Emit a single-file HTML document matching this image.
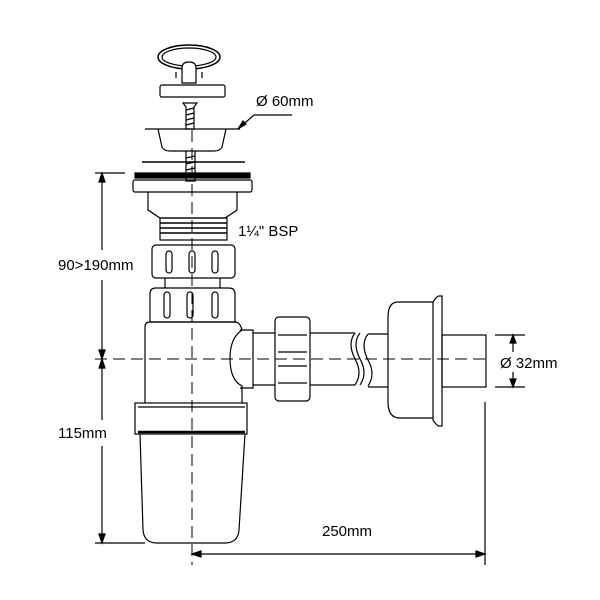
<!DOCTYPE html>
<html><head><style>body{margin:0;background:#fff}svg{display:block}text{font-family:"Liberation Sans",sans-serif;font-size:15px;fill:#000;stroke:none}</style></head>
<body>
<svg width="600" height="600" viewBox="0 0 600 600" fill="none" stroke="#000" stroke-width="1.2">
<!-- handle -->
<ellipse cx="189" cy="57" rx="31" ry="12" stroke-width="1.5"/>
<ellipse cx="189" cy="57" rx="27" ry="9"/>
<path d="M182 68 q0 -6 7 -6 q7 0 7 6 v15 h-14z" fill="#fff"/>
<path d="M176 78 v-6 M202 78 v-6"/>
<rect x="160" y="85" width="65" height="12" rx="2"/>
<!-- screw -->
<path d="M183 103 h14 l-3 4 v22 h-8 v-22z"/>
<path d="M186 110 l8 -2 M186 115 l8 -2 M186 120 l8 -2 M186 125 l8 -2"/>
<!-- strainer -->
<line x1="145" y1="129" x2="240" y2="129"/>
<path d="M158 129 l4 18 q2 4 8 4 h44 q6 0 8 -4 l4 -18"/>
<path d="M186 151 v30 h9 v-30"/>
<path d="M186 158 l9 -2 M186 164 l9 -2 M186 170 l9 -2"/>
<line x1="142" y1="162" x2="245" y2="162" stroke-width="1.6"/>
<rect x="135" y="173" width="115" height="5" fill="#000"/>
<rect x="133" y="180" width="119" height="12" rx="2"/>
<path d="M148 192 v18 l12 8 h65 l12 -8 v-18"/>
<rect x="160" y="218" width="67" height="22"/>
<path d="M160 223 h67 M160 228 h67 M160 233 h67" stroke-width="1.6"/>
<!-- nut 1 -->
<rect x="152" y="245" width="83" height="33" rx="4"/>
<rect x="166" y="251" width="6" height="22" rx="3"/>
<rect x="189" y="251" width="6" height="22" rx="3"/>
<rect x="212" y="251" width="6" height="22" rx="3"/>
<path d="M165 278 v10 M220 278 v10"/>
<!-- nut 2 -->
<path d="M150 322 v-28 q0 -6 6 -6 h73 q6 0 6 6 v28"/>
<rect x="164" y="292" width="6" height="26" rx="3"/>
<rect x="187" y="292" width="6" height="26" rx="3"/>
<rect x="212" y="292" width="6" height="26" rx="3"/>
<line x1="150" y1="322" x2="235" y2="322"/>
<!-- body -->
<path d="M145 403 v-76 q0 -5 5 -5 h85 q5 0 7 8 q-12 8 -12 28 q0 22 12 28 v17"/>
<rect x="135" y="403" width="112" height="31"/>
<line x1="138" y1="407" x2="245" y2="407"/>
<line x1="138" y1="432" x2="245" y2="432" stroke-width="2.5"/>
<path d="M140 434 l3 96 q1 13 14 13 h68 q13 0 14 -13 l6 -96"/>
<!-- outlet -->
<path d="M240 330 h13 v58 h-13"/>
<path d="M253 333 h22 M253 385 h22"/>
<rect x="275" y="317" width="35" height="84" rx="4"/>
<path d="M278 335 h29 M278 352 h29 M278 366 h29 M278 383 h29"/>
<path d="M310 333 h45 M310 385 h45"/>
<path d="M355 333 q-8 10 0 26 q8 14 0 26"/>
<path d="M360 333 q-8 10 0 26 q8 14 0 26"/>
<path d="M368 334 q-8 10 0 26 q8 14 0 26"/>
<path d="M368 334 h20 M368 387 h20"/>
<path d="M433 302 h-35 q-10 0 -10 15 v85 q0 16 12 16 h33"/>
<path d="M433 302 q4 -6 6 -6 h3 v130 h-3 q-2 0 -6 -6z"/>
<rect x="442" y="335" width="44" height="52"/>
<!-- centre lines -->
<g stroke-dasharray="12,6" stroke-width="1">
<line x1="192" y1="130" x2="192" y2="565"/>
<line x1="95" y1="359" x2="490" y2="359"/>
</g>
<!-- left dims -->
<line x1="95" y1="173" x2="125" y2="173"/>
<line x1="95" y1="543" x2="145" y2="543"/>
<line x1="102" y1="173" x2="102" y2="250"/>
<line x1="102" y1="280" x2="102" y2="420"/>
<line x1="102" y1="446" x2="102" y2="543"/>
<path d="M102 173 l-3 9 h6z M102 359 l-3 -9 h6z M102 359 l-3 9 h6z M102 543 l-3 -9 h6z" fill="#000"/>
<text x="58" y="270">90&gt;190mm</text>
<text x="58" y="438">115mm</text>
<!-- Ø60 -->
<path d="M238 129 l16 -14 h38"/>
<path d="M238 129 l5 -8 l3 3z" fill="#000"/>
<text x="256" y="106">Ø 60mm</text>
<text x="238" y="236">1¼" BSP</text>
<!-- Ø32 -->
<line x1="495" y1="335" x2="525" y2="335"/>
<line x1="495" y1="387" x2="525" y2="387"/>
<line x1="513" y1="335" x2="513" y2="352"/>
<line x1="513" y1="372" x2="513" y2="387"/>
<path d="M513 335 l-3 8 h6z M513 387 l-3 -8 h6z" fill="#000"/>
<text x="500" y="368">Ø 32mm</text>
<!-- 250 -->
<line x1="485" y1="402" x2="485" y2="565"/>
<line x1="192" y1="554" x2="485" y2="554"/>
<path d="M192 554 l9 -3 v6z M485 554 l-9 -3 v6z" fill="#000"/>
<text x="322" y="536">250mm</text>
</svg>
</body></html>
